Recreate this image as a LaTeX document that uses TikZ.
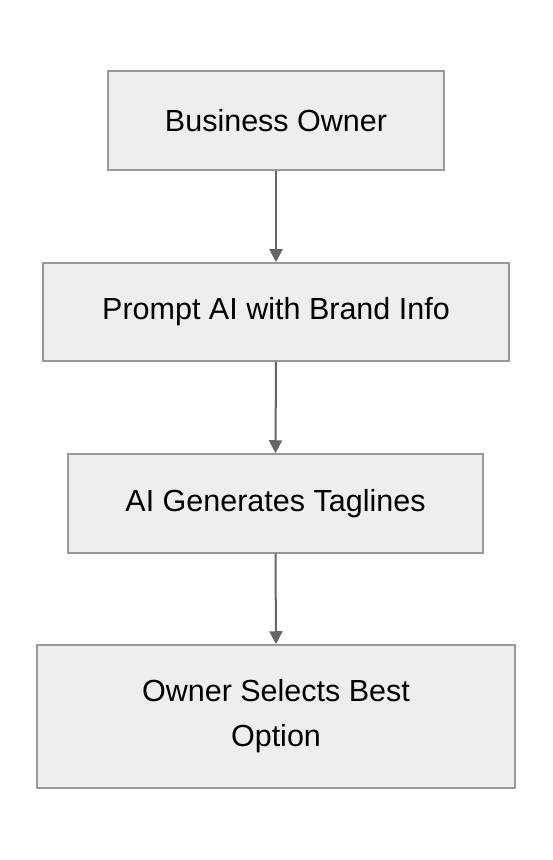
\documentclass[tikz,border=0pt]{standalone}
\usepackage{fontspec}
\setmainfont{Liberation Sans}
\usetikzlibrary{arrows.meta}
\definecolor{boxfill}{HTML}{EEEEEE}
\definecolor{boxline}{HTML}{999999}
\definecolor{arrowc}{HTML}{666666}
\tikzset{
  flowbox/.style={draw=boxline, fill=boxfill, line width=1.5pt, inner sep=0pt,
    align=center, font=\fontsize{30.5}{45}\selectfont, text=black},
  flowarrow/.style={draw=arrowc, line width=2pt, -{Triangle[length=13pt,width=13pt]}}
}
\begin{document}
\begin{tikzpicture}[x=1pt,y=1pt]
\useasboundingbox (0,0) rectangle (552,860);
\node[flowbox, minimum width=336pt, minimum height=99pt] (a) at (276,739.5) {Business Owner};
\node[flowbox, minimum width=466pt, minimum height=98pt] (b) at (276,548) {Prompt AI with Brand Info};
\node[flowbox, minimum width=415pt, minimum height=99pt] (c) at (275.5,356.5) {AI Generates Taglines};
\node[flowbox, minimum width=478pt, minimum height=143pt] (d) at (276,143.5) {Owner Selects Best\\Option};
\draw[flowarrow] (a.south) -- (b.north);
\draw[flowarrow] (b.south) -- (c.north);
\draw[flowarrow] (c.south) -- (d.north);
\end{tikzpicture}
\end{document}
